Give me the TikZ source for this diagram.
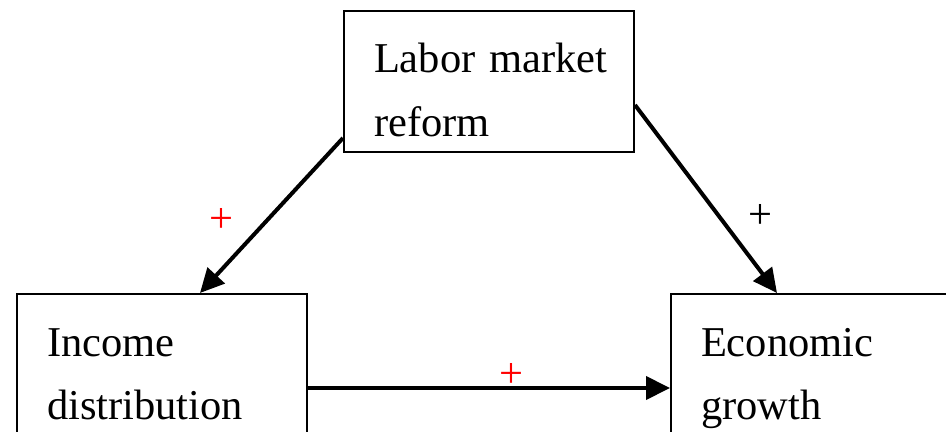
\documentclass[tikz,border=0pt]{standalone}
\usepackage{fontspec}
\setmainfont{Liberation Serif}
\usetikzlibrary{arrows.meta,positioning}

\begin{document}
\begin{tikzpicture}[
    x=0.5pt, y=-0.5pt,
    every node/.style={font=\fontsize{21.25}{32}\selectfont},
    box/.style={
      draw,
      line width=1pt,
      align=left,
      text width=115pt,
      inner xsep=15pt,
      inner ysep=0pt,
      text height=31pt,
      text depth=39.5pt,
      anchor=north west
    },
    arrow/.style={-{Triangle[length=12pt,width=11.5pt]}, line width=2pt},
    sign/.style={inner sep=0pt}
  ]
    \useasboundingbox (0,0) rectangle (946,432);
    \clip (0,0) rectangle (946,432);

    \node[box] (lab) at (343,10) {\mbox{Labor market}\\reform};
    \node[box] (inc) at (16,293) {Income\\distribution};
    \node[box] (eco) at (670,293) {Economic\\growth};

    \draw[arrow] ([yshift=7.5pt]lab.south west) -- ([xshift=19pt]inc.north);
    \draw[arrow] ([yshift=-11.75pt]lab.east) -- ([xshift=53.5pt]eco.north west);
    \draw[arrow] ([yshift=-11.75pt]inc.east) -- ([yshift=-11.75pt]eco.west);

    \node[sign, text=red] (p1) at (221,220) {+};
    \node[sign] (p2) at (760,216) {+};
    \node[sign, text=red] (p3) at (511,375) {+};
\end{tikzpicture}
\end{document}
